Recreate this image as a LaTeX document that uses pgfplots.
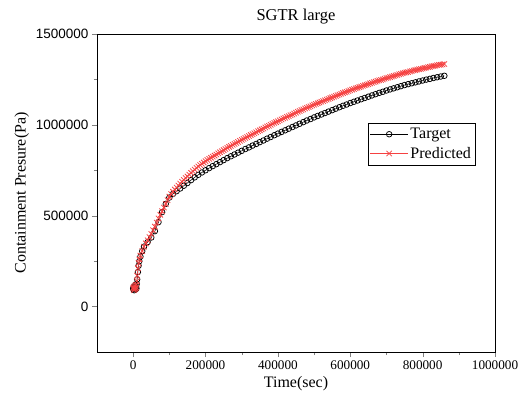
\documentclass[border=0pt]{standalone}
\usepackage{pgfplots}
\pgfplotsset{compat=1.18}
\usepackage{fontspec}
\setmainfont{Liberation Serif}
\setsansfont{Liberation Sans}
\definecolor{predred}{RGB}{245,65,65}

\pgfplotstableread{
t p
0 100000
1000 95000
2000 110000
3000 90000
4000 105000
5000 100000
6000 120000
7000 95000
8000 110000
9000 100000
10000 125000
11000 150000
13000 190000
15000 225000
17000 250000
20000 275000
25000 305000
30000 330000
40000 355000
50000 380000
60000 415000
70000 465000
80000 520000
90000 565000
100000 600000
110000 620000
120000 635000
130000 650000
140000 665000
150000 680000
160000 696000
170000 711000
180000 725000
190000 738000
200000 750000
210000 762000
220000 773000
230000 784000
240000 795000
250000 806000
260000 817000
270000 827000
280000 837000
290000 847000
300000 857000
310000 867000
320000 876000
330000 886000
340000 895000
350000 905000
360000 914000
370000 924000
380000 933000
390000 943000
400000 952000
410000 961000
420000 970000
430000 979000
440000 988000
450000 997000
460000 1006000
470000 1015000
480000 1024000
490000 1032000
500000 1041000
510000 1049000
520000 1057000
530000 1065000
540000 1073000
550000 1081000
560000 1089000
570000 1097000
580000 1105000
590000 1112000
600000 1120000
610000 1127000
620000 1134000
630000 1141000
640000 1148000
650000 1155000
660000 1162000
670000 1169000
680000 1176000
690000 1182000
700000 1189000
710000 1195000
720000 1201000
730000 1207000
740000 1213000
750000 1219000
760000 1224000
770000 1229000
780000 1234000
790000 1239000
800000 1244000
810000 1249000
820000 1253000
830000 1258000
840000 1262000
850000 1266000
860000 1270000
}\target

\pgfplotstableread{
t p
0 100000
1000 105000
2000 90000
3000 110000
4000 95000
5000 100000
6000 115000
7000 100000
8000 120000
9000 105000
10000 140000
11000 170000
13000 210000
15000 240000
17000 260000
20000 280000
25000 305000
30000 330000
35000 348000
40000 365000
45000 382000
50000 400000
55000 420000
60000 440000
65000 462000
70000 485000
75000 505000
80000 525000
85000 545000
90000 565000
95000 586000
100000 605000
105000 619000
110000 632000
115000 644000
120000 655000
125000 666000
130000 677000
135000 687000
140000 697000
145000 707000
150000 716000
155000 726000
160000 736000
165000 745000
170000 754000
175000 763000
180000 771000
185000 779000
190000 786000
195000 793000
200000 800000
205000 807000
210000 813000
215000 819000
220000 825000
225000 831000
230000 837000
235000 843000
240000 849000
245000 855000
250000 861000
255000 867000
260000 873000
265000 879000
270000 884000
275000 890000
280000 895000
285000 901000
290000 906000
295000 912000
300000 917000
305000 923000
310000 928000
315000 933000
320000 938000
325000 944000
330000 949000
335000 954000
340000 959000
345000 965000
350000 970000
355000 975000
360000 980000
365000 986000
370000 991000
375000 995000
380000 1000000
385000 1006000
390000 1011000
395000 1015000
400000 1020000
405000 1025000
410000 1030000
415000 1035000
420000 1039000
425000 1044000
430000 1048000
435000 1053000
440000 1057000
445000 1062000
450000 1067000
455000 1072000
460000 1076000
465000 1081000
470000 1085000
475000 1090000
480000 1094000
485000 1098000
490000 1102000
495000 1107000
500000 1111000
505000 1115000
510000 1119000
515000 1123000
520000 1127000
525000 1131000
530000 1135000
535000 1139000
540000 1143000
545000 1147000
550000 1151000
555000 1155000
560000 1159000
565000 1163000
570000 1167000
575000 1171000
580000 1175000
585000 1179000
590000 1182000
595000 1186000
600000 1190000
605000 1194000
610000 1197000
615000 1201000
620000 1204000
625000 1208000
630000 1211000
635000 1215000
640000 1218000
645000 1221000
650000 1224000
655000 1228000
660000 1231000
665000 1235000
670000 1238000
675000 1242000
680000 1245000
685000 1247000
690000 1250000
695000 1254000
700000 1257000
705000 1260000
710000 1263000
715000 1266000
720000 1269000
725000 1272000
730000 1275000
735000 1278000
740000 1281000
745000 1284000
750000 1287000
755000 1289000
760000 1291000
765000 1294000
770000 1296000
775000 1299000
780000 1301000
785000 1304000
790000 1306000
795000 1308000
800000 1310000
805000 1313000
810000 1315000
815000 1317000
820000 1319000
825000 1322000
830000 1324000
835000 1326000
840000 1328000
845000 1330000
850000 1331000
855000 1333000
860000 1335000
}\predicted

\begin{document}
\begin{tikzpicture}
  \begin{axis}[
    width=398pt, height=318pt, scale only axis,
    xmin=-100000, xmax=1000000,
    ymin=-250000, ymax=1500000,
    xtick={0,200000,400000,600000,800000,1000000},
    ytick={0,500000,1000000,1500000},
    minor x tick num=1, minor y tick num=1,
    tick align=outside, tick pos=left,
    major tick length=5pt, minor tick length=3pt,
    scaled ticks=false,
    /pgf/number format/assume math mode=true,
    /pgf/number format/fixed,
    /pgf/number format/1000 sep={},
    xticklabel style={font=\fontsize{13.2}{15}\selectfont},
    yticklabel style={font=\sffamily\fontsize{13.5}{15}\selectfont},
    title={SGTR large},
    title style={font=\fontsize{16.5}{18}\selectfont},
    xlabel={Time(sec)},
    ylabel={Containment Presure(Pa)},
    label style={font=\fontsize{16}{18}\selectfont},
    legend style={at={(0.95,0.72)}, anchor=north east, draw=black,
      font=\fontsize{16}{18}\selectfont, row sep=3pt,
      inner xsep=2pt, inner ysep=3pt},
    legend cell align=left,
    legend image code/.code={
      \draw[mark repeat=2, mark phase=2]
        plot coordinates {(0pt,0pt) (19pt,0pt) (38pt,0pt)};},
    axis line style={line width=0.8pt},
  ]
    \coordinate (sw) at (rel axis cs:0,0);
    \coordinate (ne) at (rel axis cs:1,1);
    \addplot[black, line width=0.5pt, mark=o, mark size=2.8pt,
      mark options={fill=white, line width=0.75pt}] table[x=t, y=p] {\target};
    \addplot[predred, line width=0.6pt, mark=x, mark size=3.8pt,
      mark options={line width=0.75pt}] table[x=t, y=p] {\predicted};
    \legend{Target, Predicted}
  \end{axis}
  \pgfresetboundingbox
  \path[use as bounding box] (sw) ++(-97pt,-55pt) rectangle ([shift={(29pt,34pt)}]ne);
\end{tikzpicture}
\end{document}
